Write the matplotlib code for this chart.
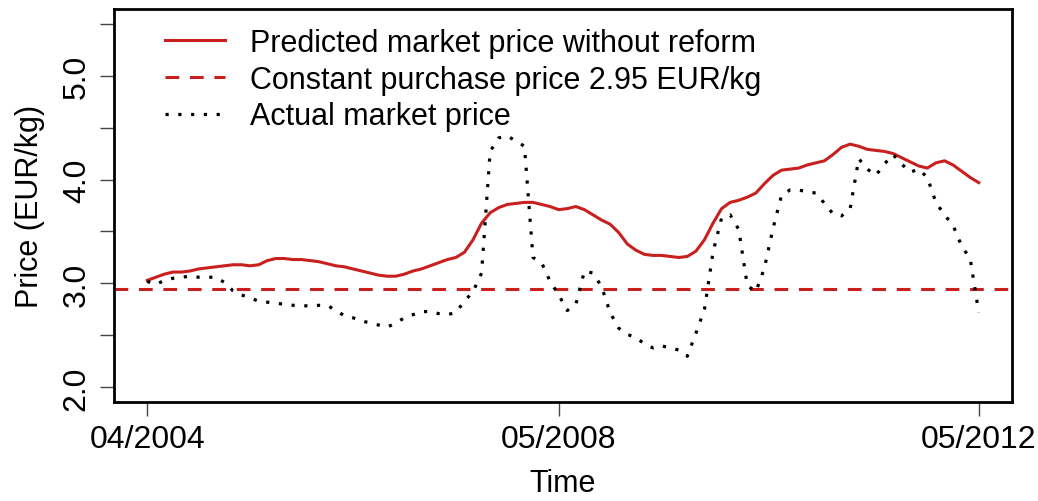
import numpy as np
import matplotlib
matplotlib.use("Agg")
import matplotlib.pyplot as plt

plt.rcParams['font.family'] = ['Liberation Sans', 'DejaVu Sans']

# monthly index, 04/2004 .. 05/2012
predicted_price = [
    3.03, 3.06, 3.09, 3.11, 3.11, 3.12, 3.14, 3.15, 3.16, 3.17,
    3.18, 3.18, 3.17, 3.18, 3.22, 3.24, 3.24, 3.23, 3.23, 3.22,
    3.21, 3.19, 3.17, 3.16, 3.14, 3.12, 3.10, 3.08, 3.07, 3.07,
    3.09, 3.12, 3.14, 3.17, 3.20, 3.23, 3.25, 3.30, 3.42, 3.58,
    3.68, 3.73, 3.76, 3.77, 3.78, 3.78, 3.76, 3.74, 3.71, 3.72,
    3.74, 3.71, 3.66, 3.61, 3.57, 3.49, 3.38, 3.32, 3.28, 3.27,
    3.27, 3.26, 3.25, 3.26, 3.31, 3.42, 3.58, 3.72, 3.78, 3.80,
    3.83, 3.87, 3.96, 4.04, 4.09, 4.10, 4.11, 4.14, 4.16, 4.18,
    4.24, 4.31, 4.34, 4.32, 4.29, 4.28, 4.27, 4.25, 4.21, 4.17,
    4.13, 4.11, 4.16, 4.18, 4.14, 4.08, 4.02, 3.97,
]
actual_price = [
    3.02, 2.99, 3.03, 3.05, 3.06, 3.07, 3.06, 3.06, 3.06, 3.01,
    2.93, 2.89, 2.86, 2.83, 2.82, 2.81, 2.80, 2.79, 2.79, 2.78,
    2.79, 2.79, 2.74, 2.69, 2.67, 2.64, 2.62, 2.60, 2.58, 2.62,
    2.67, 2.70, 2.73, 2.73, 2.71, 2.70, 2.72, 2.83, 2.92, 3.10,
    4.27, 4.40, 4.42, 4.37, 4.32, 3.25, 3.20, 3.02, 2.89, 2.74,
    2.80, 3.12, 3.10, 2.97, 2.72, 2.57, 2.51, 2.48, 2.42, 2.38,
    2.40, 2.38, 2.36, 2.30, 2.52, 2.75, 3.30, 3.63, 3.66, 3.52,
    2.98, 2.92, 3.15, 3.53, 3.85, 3.90, 3.90, 3.88, 3.87, 3.77,
    3.67, 3.65, 3.72, 4.20, 4.10, 4.04, 4.15, 4.24, 4.15, 4.07,
    4.10, 4.02, 3.78, 3.66, 3.56, 3.36, 3.24, 2.72,
]
purchase_price = 2.95

tick_pos = [0, 48, 97]
tick_labels = ["04/2004", "05/2008", "05/2012"]
ytick_pos = [2.0, 2.5, 3.0, 3.5, 4.0, 4.5, 5.0, 5.5]
ytick_labels = ["2.0", "", "3.0", "", "4.0", "", "5.0", ""]

red = '#C8201E'

fig = plt.figure(figsize=(10.38, 5.02), dpi=100)
ax = fig.add_axes([114 / 1038, 1 - 403 / 502, 898 / 1038, 393 / 502])

x = np.arange(len(predicted_price))
ax.plot(x, predicted_price, color=red, lw=2.2, label="Predicted market price without reform")
ax.axhline(purchase_price, color=red, lw=2.2, dashes=(4.5, 3.5),
           label="Constant purchase price 2.95 EUR/kg")
ax.plot(x, actual_price, color='black', lw=2.3, linestyle=(0, (1, 3)), label="Actual market price")

pad_x = 0.04 * (x[-1] - x[0])
ax.set_xlim(x[0] - pad_x, x[-1] + pad_x)
ax.set_ylim(2.0 - 0.14, 5.5 + 0.14)

ax.set_xticks(tick_pos)
ax.set_xticklabels(tick_labels, fontsize=23)
ax.set_yticks(ytick_pos)
ax.set_yticklabels(ytick_labels, fontsize=23, rotation=90, va='center')
ax.tick_params(axis='both', length=10, width=1, color='#444444', pad=6)

for s in ax.spines.values():
    s.set_linewidth(2)

ax.set_xlabel("Time", fontsize=22, labelpad=10)
ax.set_ylabel("Price (EUR/kg)", fontsize=22, labelpad=12)

ax.legend(loc='upper left', bbox_to_anchor=(0.026, 1.022), frameon=False, fontsize=22,
          handlelength=1.96, handletextpad=0.82, labelspacing=0.22,
          borderaxespad=0.5, borderpad=0.4)

fig.savefig("out.png", dpi=100)
